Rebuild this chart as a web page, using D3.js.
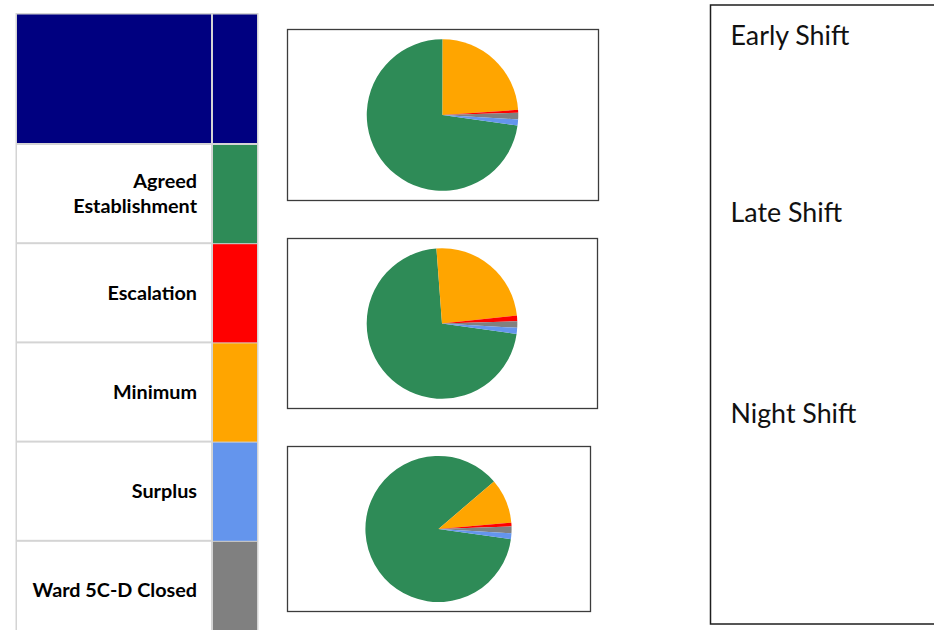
<!DOCTYPE html>
<html>
<head>
<meta charset="utf-8">
<script src="https://cdn.jsdelivr.net/npm/d3@7/dist/d3.min.js"></script>
<style>
  html, body { margin: 0; padding: 0; background: #ffffff; }
  svg { display: block; }
</style>
</head>
<body>
<svg id="chart" width="934" height="630"></svg>
<script>
// Staffing categories shown in the key, with their colours
const categories = ["Agreed Establishment", "Escalation", "Minimum", "Surplus", "Ward 5C-D Closed"];
const categoryColors = ["#2e8b57", "#ff0000", "#ffa500", "#6495ed", "#808080"];
const headerColor = "#000080";

// Shifts, one pie each
const shifts = ["Early Shift", "Late Shift", "Night Shift"];

// Order in which the slices run clockwise round each pie
const sliceOrder = ["Agreed Establishment", "Minimum", "Escalation", "Ward 5C-D Closed", "Surplus"];

// Share of hours (%) per category, in sliceOrder
const earlyShare = [72.8, 23.9, 0.6, 1.4, 1.3];
const lateShare  = [71.6, 24.5, 1.2, 1.4, 1.3];
const nightShare = [86.5, 9.9, 0.8, 1.5, 1.3];

// ---------- layout ----------
const svg = d3.select("#chart");
const color = d3.scaleOrdinal(categories, categoryColors);

const keyLeft = 15.5, keyDivider = 212, keyRight = 258.5;
const keyTop = 13, keyHeaderBottom = 144, keyBottom = 640;
const gridColor = "#d4d4d4";
const labelFont = "Lato, 'Open Sans', 'Liberation Sans', sans-serif";

const panels = [
  { x: 287, y: 29,  w: 311, h: 171 },
  { x: 287, y: 238, w: 310, h: 170 },
  { x: 287, y: 446, w: 303, h: 165 }
];
const shiftBox = { x: 710.5, y: 5, w: 300, h: 619 };
const shiftLabelY = [45, 222, 423];

// ---------- key table ----------
const key = svg.append("g");
const rowScale = d3.scaleBand().domain(categories).range([keyHeaderBottom, keyBottom]);

key.append("rect")
  .attr("x", keyLeft).attr("y", keyTop)
  .attr("width", keyRight - keyLeft).attr("height", keyBottom - keyTop)
  .attr("fill", gridColor);

// header row
key.append("rect")
  .attr("x", keyLeft + 1.5).attr("y", keyTop + 1.5)
  .attr("width", keyDivider - keyLeft - 2.5).attr("height", keyHeaderBottom - keyTop - 2.5)
  .attr("fill", headerColor);
key.append("rect")
  .attr("x", keyDivider + 1).attr("y", keyTop + 1.5)
  .attr("width", keyRight - keyDivider - 2.5).attr("height", keyHeaderBottom - keyTop - 2.5)
  .attr("fill", headerColor);

const rows = key.selectAll("g.row").data(categories).join("g").attr("class", "row");

rows.append("rect")
  .attr("x", keyLeft + 1.5)
  .attr("y", d => rowScale(d) + 1)
  .attr("width", keyDivider - keyLeft - 2.5)
  .attr("height", rowScale.bandwidth() - 2)
  .attr("fill", "#ffffff");

rows.append("rect")
  .attr("x", keyDivider + 1)
  .attr("y", d => rowScale(d) + 1)
  .attr("width", keyRight - keyDivider - 2.5)
  .attr("height", rowScale.bandwidth() - 1)
  .attr("fill", d => color(d));

const wrapLabel = d => d === "Agreed Establishment" ? ["Agreed", "Establishment"] : [d];

rows.append("text")
  .attr("text-anchor", "end")
  .attr("font-family", labelFont)
  .attr("font-weight", 700)
  .attr("font-size", 19.8)
  .attr("fill", "#000000")
  .each(function (d) {
    const lines = wrapLabel(d);
    const cy = rowScale(d) + rowScale.bandwidth() / 2 - 0.5;
    const lh = 25;
    d3.select(this).selectAll("tspan").data(lines).join("tspan")
      .attr("x", keyDivider - 15)
      .attr("y", (l, i) => cy + 7.3 + (i - (lines.length - 1) / 2) * lh)
      .text(l => l);
  });

// ---------- pies ----------
const pie = d3.pie()
  .sort(null)
  .value(d => d.value)
  .startAngle(98 * Math.PI / 180)
  .endAngle((98 + 360) * Math.PI / 180);

const shares = [earlyShare, lateShare, nightShare];

shifts.forEach((shift, i) => {
  const p = panels[i];
  const g = svg.append("g");
  g.append("rect")
    .attr("x", p.x + 0.5).attr("y", p.y + 0.5)
    .attr("width", p.w).attr("height", p.h)
    .attr("fill", "#ffffff")
    .attr("stroke", "#3c3c3c")
    .attr("stroke-width", 1.3);

  const r = p.h * 0.443;
  const arc = d3.arc().innerRadius(0).outerRadius(r);
  const data = sliceOrder.map((c, j) => ({ category: c, value: shares[i][j] }));

  g.append("g")
    .attr("transform", `translate(${p.x + p.w / 2},${p.y + p.h / 2 + 0.5})`)
    .selectAll("path")
    .data(pie(data))
    .join("path")
    .attr("d", arc)
    .attr("fill", d => color(d.data.category));
});

// ---------- shift labels ----------
svg.append("rect")
  .attr("x", shiftBox.x).attr("y", shiftBox.y)
  .attr("width", shiftBox.w).attr("height", shiftBox.h)
  .attr("fill", "none")
  .attr("stroke", "#1e1e1e")
  .attr("stroke-width", 1.5);

svg.selectAll("text.shift").data(shifts).join("text")
  .attr("class", "shift")
  .attr("x", shiftBox.x + 20)
  .attr("y", (d, i) => shiftLabelY[i])
  .attr("font-family", labelFont)
  .attr("font-size", 26.8)
  .attr("fill", "#111111")
  .text(d => d);
</script>
</body>
</html>
